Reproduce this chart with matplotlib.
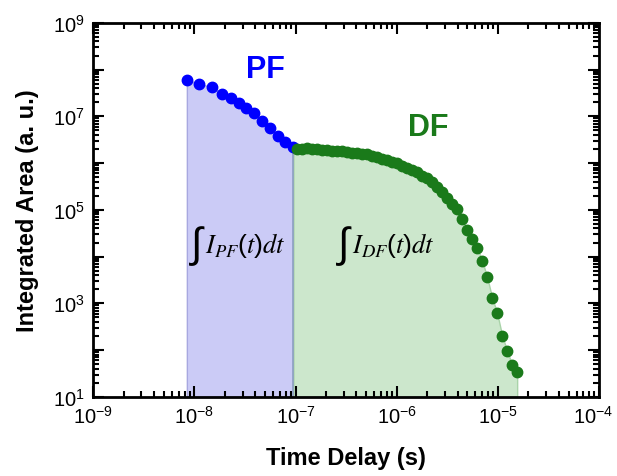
import numpy as np
import matplotlib
matplotlib.use("Agg")
import matplotlib.pyplot as plt
import matplotlib.transforms as mtransforms
from matplotlib.ticker import LogLocator, FixedLocator, FuncFormatter, NullFormatter

plt.rcParams['font.family'] = ['Liberation Sans', 'DejaVu Sans']
plt.rcParams['mathtext.default'] = 'regular'

# Prompt fluorescence (blue)
pf_time = [8.43e-9, 1.11e-8, 1.49e-8, 1.87e-8, 2.31e-8, 2.77e-8, 3.25e-8,
           3.90e-8, 4.71e-8, 5.61e-8, 6.68e-8, 7.89e-8, 9.53e-8]
pf_area = [6.04e7, 4.95e7, 4.22e7, 3.03e7, 2.45e7, 1.91e7, 1.50e7,
           1.17e7, 8.13e6, 5.68e6, 3.89e6, 2.89e6, 2.19e6]

# Delayed fluorescence (green)
df_time = [1.038e-7, 1.161e-7, 1.303e-7, 1.459e-7, 1.637e-7, 1.832e-7, 2.051e-7,
           2.301e-7, 2.576e-7, 2.891e-7, 3.236e-7, 3.631e-7, 4.064e-7, 4.550e-7,
           5.105e-7, 5.715e-7, 6.412e-7, 7.178e-7, 8.035e-7, 9.016e-7, 1.009e-6,
           1.132e-6, 1.268e-6, 1.419e-6, 1.592e-6, 1.782e-6, 2.000e-6, 2.239e-6,
           2.506e-6, 2.812e-6, 3.148e-6, 3.532e-6, 3.954e-6, 4.426e-6, 4.966e-6,
           5.559e-6, 6.237e-6, 6.982e-6, 7.816e-6, 8.770e-6, 9.817e-6, 1.102e-5,
           1.233e-5, 1.380e-5, 1.549e-5]
df_area = [2.02e6, 2.04e6, 2.06e6, 2.05e6, 2.00e6, 1.94e6, 1.89e6,
           1.85e6, 1.81e6, 1.77e6, 1.72e6, 1.68e6, 1.64e6, 1.60e6,
           1.53e6, 1.42e6, 1.32e6, 1.23e6, 1.14e6, 1.06e6, 9.84e5,
           8.83e5, 8.00e5, 7.26e5, 6.44e5, 5.40e5, 4.70e5, 3.86e5,
           3.08e5, 2.35e5, 1.79e5, 1.36e5, 1.03e5, 6.41e4, 3.73e4,
           2.40e4, 1.54e4, 8.11e3, 3.69e3, 1.31e3, 6.27e2, 2.02e2,
           96.4, 48.3, 34.3]

x_major = [1e-9, 1e-8, 1e-7, 1e-6, 1e-5, 1e-4]
y_major = [1e1, 1e2, 1e3, 1e4, 1e5, 1e6, 1e7, 1e8, 1e9]

blue = '#0000ff'
green = '#1a7a1a'

fig = plt.figure(figsize=(6.17, 4.77), dpi=100)
ax = fig.add_axes([0.151, 0.166, 0.820, 0.784])
ax.set_xscale('log')
ax.set_yscale('log')
ax.set_xlim(1e-9, 1e-4)
ax.set_ylim(1e1, 1e9)

# shaded integrals
ax.fill_between(pf_time, pf_area, 1e1, facecolor='#cbcbf6', edgecolor='#a8a8e0', lw=1)
gx = [pf_time[-1]] + df_time
gy = [pf_area[-1]] + df_area
ax.fill_between(gx, gy, 1e1, facecolor='#cce7cc', edgecolor='#a9d3a9', lw=1)
ax.plot([pf_time[-1], pf_time[-1]], [1e1, pf_area[-1]], color='#8c9fc0', lw=1.2)

ax.plot(pf_time, pf_area, 'o', color=blue, ms=7.5, mec=blue)
ax.plot(df_time, df_area, 'o', color=green, ms=7.5, mec=green)

ax.text(5.0e-8, 1.05e8, 'PF', color=blue, fontsize=22, fontweight='bold', ha='center', va='center')
ax.text(2.05e-6, 6.0e6, 'DF', color=green, fontsize=22, fontweight='bold', ha='center', va='center')

# integral labels
for x_int, x_body, sub in [(8.9e-9, 1.26e-8, 'PF'), (2.5e-7, 3.65e-7, 'DF')]:
    ax.text(x_int, 1.8e4, r'$\int$', fontsize=30, math_fontfamily='stix',
            ha='left', va='center')
    ax.text(x_body, 1.8e4,
            r'$\mathit{I}_{\mathit{%s}}(\mathit{t})\mathit{dt}$' % sub,
            fontsize=19, math_fontfamily='stix', ha='left', va='center')

ax.xaxis.set_major_locator(FixedLocator(x_major))
ax.xaxis.set_minor_locator(LogLocator(base=10, subs=np.arange(2, 10), numticks=100))
ax.yaxis.set_major_locator(FixedLocator(y_major))
ax.yaxis.set_minor_locator(LogLocator(base=10, subs=np.arange(2, 10), numticks=100))


def xfmt(v, pos):
    return r'$10^{%d}$' % round(np.log10(v))


def yfmt(v, pos):
    e = round(np.log10(v))
    return r'$10^{%d}$' % e if e % 2 == 1 else ''


ax.xaxis.set_major_formatter(FuncFormatter(xfmt))
ax.yaxis.set_major_formatter(FuncFormatter(yfmt))
ax.xaxis.set_minor_formatter(NullFormatter())
ax.yaxis.set_minor_formatter(NullFormatter())

ax.tick_params(which='both', direction='in', top=True, right=True, width=1.5)
ax.tick_params(which='major', length=8, labelsize=14.5)
ax.tick_params(which='minor', length=4)
ax.tick_params(axis='x', which='major', pad=6)
ax.tick_params(axis='y', which='major', pad=6)
for s in ax.spines.values():
    s.set_linewidth(2)

# nudge the last x tick label so it stays inside the figure
last = ax.get_xticklabels()[-1]
last.set_transform(last.get_transform() +
                   mtransforms.ScaledTranslation(-4 / 72, 0, fig.dpi_scale_trans))

ax.set_xlabel('Time Delay (s)', fontsize=17, fontweight='bold', labelpad=14)
ax.set_ylabel('Integrated Area (a. u.)', fontsize=17, fontweight='bold', labelpad=10)

fig.savefig('out.png', dpi=100)
